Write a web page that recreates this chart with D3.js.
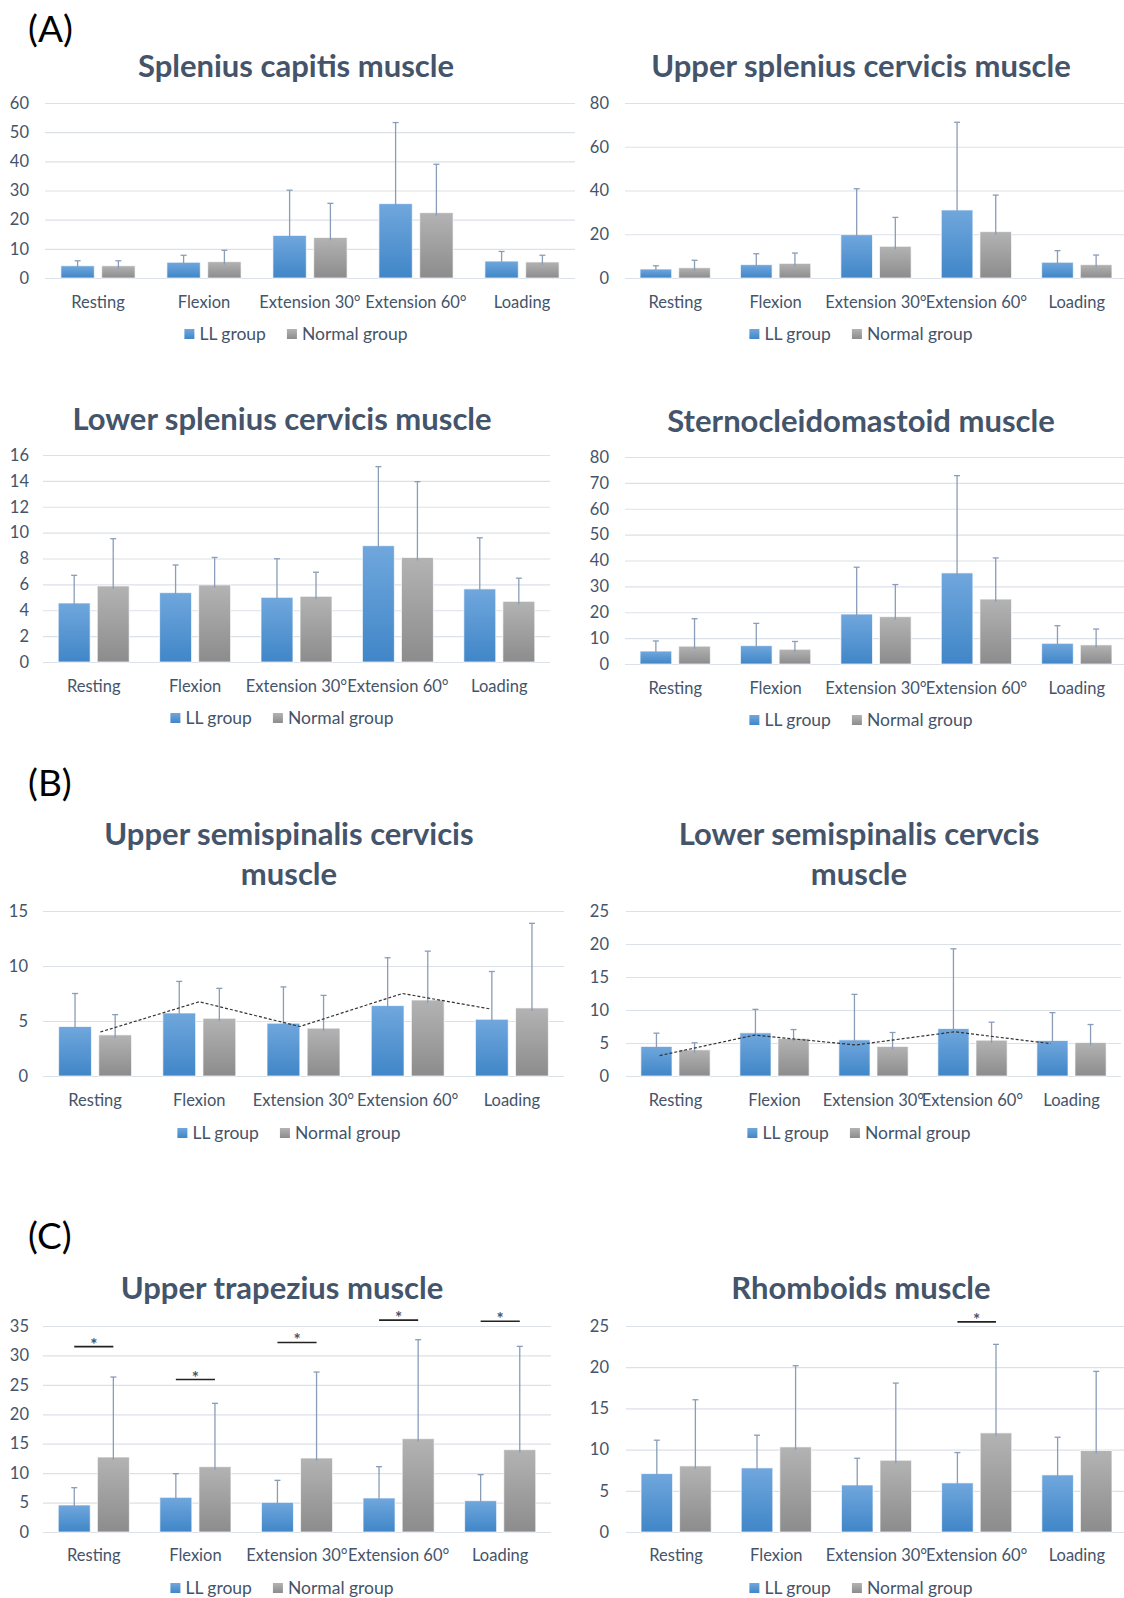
<!DOCTYPE html>
<html>
  <head>
    <meta charset="UTF-8">
    <script src="https://d3js.org/d3.v7.min.js"></script>
    <style>
      body{ margin: 0; background: #fff; }
      text{ font-family: Lato, "Open Sans", sans-serif; fill: #44546A; }
      .grid line{ stroke: #DCE1E8; stroke-width: 1.2; }
      .grid .domain, .cats .domain{ display: none; }
      .title{ font-weight: bold; font-size: 31px; }
      .panel{ font-size: 37px; fill: #000; }
    </style>
    <title>Muscle activity</title>
  </head>
  <body>
    <script>
      // categories and series
      const categories = ["Resting", "Flexion", "Extension 30°", "Extension 60°", "Loading"];
      const seriesNames = ["LL group", "Normal group"];

      // (A) splenius capitis
      const capitisLL = [4.2, 5.4, 14.6, 25.5, 5.8];
      const capitisLLSd = [1.7, 2.4, 15.5, 27.8, 3.3];
      const capitisNormal = [4.2, 5.6, 13.9, 22.4, 5.5];
      const capitisNormalSd = [1.7, 3.9, 11.7, 16.6, 2.3];
      const capitisTicks = [0, 10, 20, 30, 40, 50, 60];

      // (A) upper splenius cervicis
      const upperSplLL = [4.1, 6.1, 19.8, 31.1, 7.2];
      const upperSplLLSd = [1.5, 5.0, 21.0, 40.1, 5.3];
      const upperSplNormal = [4.7, 6.7, 14.5, 21.2, 6.1];
      const upperSplNormalSd = [3.4, 4.7, 13.2, 16.7, 4.4];
      const upperSplTicks = [0, 20, 40, 60, 80];

      // (A) lower splenius cervicis
      const lowerSplLL = [4.56, 5.36, 5.0, 8.99, 5.65];
      const lowerSplLLSd = [2.14, 2.14, 2.98, 6.11, 3.95];
      const lowerSplNormal = [5.88, 5.96, 5.08, 8.08, 4.69];
      const lowerSplNormalSd = [3.65, 2.12, 1.86, 5.86, 1.79];
      const lowerSplTicks = [0, 2, 4, 6, 8, 10, 12, 14, 16];

      // (A) sternocleidomastoid
      const scmLL = [5.0, 7.1, 19.3, 35.2, 8.0];
      const scmLLSd = [3.9, 8.6, 18.1, 37.6, 6.8];
      const scmNormal = [6.9, 5.7, 18.3, 25.1, 7.4];
      const scmNormalSd = [10.6, 3.0, 12.4, 15.9, 6.1];
      const scmTicks = [0, 10, 20, 30, 40, 50, 60, 70, 80];

      // (B) upper semispinalis cervicis
      const upperSemiLL = [4.5, 5.73, 4.8, 6.4, 5.16];
      const upperSemiLLSd = [3.0, 2.87, 3.3, 4.35, 4.34];
      const upperSemiNormal = [3.74, 5.25, 4.35, 6.91, 6.19];
      const upperSemiNormalSd = [1.84, 2.72, 2.98, 4.44, 7.69];
      const upperSemiTicks = [0, 5, 10, 15];
      const upperSemiTrend = [4.0, 6.75, 4.5, 7.5, 6.1];
      const upperSemiTrendAt = [0.05, 1.0, 1.965, 2.95, 3.79];

      // (B) lower semispinalis cervicis
      const lowerSemiLL = [4.48, 6.54, 5.48, 7.19, 5.38];
      const lowerSemiLLSd = [2.01, 3.56, 6.89, 12.08, 4.22];
      const lowerSemiNormal = [3.97, 5.68, 4.48, 5.43, 5.08];
      const lowerSemiNormalSd = [1.06, 1.36, 2.11, 2.72, 2.72];
      const lowerSemiTicks = [0, 5, 10, 15, 20, 25];
      const lowerSemiTrend = [3.1, 6.2, 4.7, 6.7, 4.9];
      const lowerSemiTrendAt = [-0.16, 0.8, 1.82, 2.82, 3.79];

      // (C) upper trapezius
      const trapLL = [4.59, 5.89, 5.04, 5.78, 5.32];
      const trapLLSd = [2.94, 4.02, 3.74, 5.32, 4.42];
      const trapNormal = [12.74, 11.1, 12.57, 15.86, 13.99];
      const trapNormalSd = [13.59, 10.76, 14.61, 16.81, 17.55];
      const trapTicks = [0, 5, 10, 15, 20, 25, 30, 35];
      const trapSig = [31.5, 25.9, 32.2, 36.0, 35.8];

      // (C) rhomboids
      const rhombLL = [7.09, 7.78, 5.71, 5.96, 6.93];
      const rhombLLSd = [4.05, 3.97, 3.24, 3.68, 4.57];
      const rhombNormal = [8.02, 10.33, 8.71, 12.03, 9.89];
      const rhombNormalSd = [8.03, 9.85, 9.36, 10.74, 9.6];
      const rhombTicks = [0, 5, 10, 15, 20, 25];
      const rhombSig = [null, null, null, 25.5, null];

      const svg = d3.select("body").append("svg")
                    .attr("width", 1124)
                    .attr("height", 1598);

      // bar gradients
      const defs = svg.append("defs");
      function gradient(id, top, bottom){
        let gr = defs.append("linearGradient").attr("id", id)
                     .attr("x1", 0).attr("y1", 0).attr("x2", 0).attr("y2", 1);
        gr.append("stop").attr("offset", "0%").attr("stop-color", top);
        gr.append("stop").attr("offset", "100%").attr("stop-color", bottom);
      }
      gradient("gLL", "#70A7DD", "#4086C8");
      gradient("gNormal", "#B3B3B3", "#8C8C8C");
      const fills = ["url(#gLL)", "url(#gNormal)"];

      // panel letters
      [["(A)", 29], ["(B)", 783], ["(C)", 1236]].forEach(p => {
        svg.append("text").attr("class", "panel")
           .attr("x", 28).attr("y", p[1]).attr("dy", "0.35em")
           .text(p[0]);
      });

      const charts = [
        {title: ["Splenius capitis muscle"], ll: capitisLL, llSd: capitisLLSd, nm: capitisNormal, nmSd: capitisNormalSd, ticks: capitisTicks,
         left: 45, right: 575, top: 103, bottom: 278, labelRight: 29, cx: 296, titleY: 66, catY: 302, legendY: 334},
        {title: ["Upper splenius cervicis muscle"], ll: upperSplLL, llSd: upperSplLLSd, nm: upperSplNormal, nmSd: upperSplNormalSd, ticks: upperSplTicks,
         left: 625, right: 1127, top: 103, bottom: 278, labelRight: 609, cx: 861, titleY: 66, catY: 302, legendY: 334},
        {title: ["Lower splenius cervicis muscle"], ll: lowerSplLL, llSd: lowerSplLLSd, nm: lowerSplNormal, nmSd: lowerSplNormalSd, ticks: lowerSplTicks,
         left: 43, right: 550, top: 455, bottom: 662, labelRight: 29, cx: 282, titleY: 419, catY: 686, legendY: 718},
        {title: ["Sternocleidomastoid muscle"], ll: scmLL, llSd: scmLLSd, nm: scmNormal, nmSd: scmNormalSd, ticks: scmTicks,
         left: 625, right: 1127, top: 457, bottom: 664, labelRight: 609, cx: 861, titleY: 421, catY: 688, legendY: 720},
        {title: ["Upper semispinalis cervicis", "muscle"], ll: upperSemiLL, llSd: upperSemiLLSd, nm: upperSemiNormal, nmSd: upperSemiNormalSd, ticks: upperSemiTicks,
         trend: upperSemiTrend, trendAt: upperSemiTrendAt,
         left: 43, right: 564, top: 911, bottom: 1076, labelRight: 28, cx: 289, titleY: 834, catY: 1100, legendY: 1133},
        {title: ["Lower semispinalis cervcis", "muscle"], ll: lowerSemiLL, llSd: lowerSemiLLSd, nm: lowerSemiNormal, nmSd: lowerSemiNormalSd, ticks: lowerSemiTicks,
         trend: lowerSemiTrend, trendAt: lowerSemiTrendAt,
         left: 626, right: 1121, top: 911, bottom: 1076, labelRight: 609, cx: 859, titleY: 834, catY: 1100, legendY: 1133},
        {title: ["Upper trapezius muscle"], ll: trapLL, llSd: trapLLSd, nm: trapNormal, nmSd: trapNormalSd, ticks: trapTicks, sig: trapSig,
         left: 43, right: 551, top: 1326, bottom: 1532, labelRight: 29, cx: 282, titleY: 1288, catY: 1555, legendY: 1588},
        {title: ["Rhomboids muscle"], ll: rhombLL, llSd: rhombLLSd, nm: rhombNormal, nmSd: rhombNormalSd, ticks: rhombTicks, sig: rhombSig,
         left: 626, right: 1127, top: 1326, bottom: 1532, labelRight: 609, cx: 861, titleY: 1288, catY: 1555, legendY: 1588}
      ];

      charts.forEach(c => {
        const g = svg.append("g");
        const x = d3.scaleBand().domain(categories).range([c.left, c.right]);
        const y = d3.scaleLinear().domain([0, d3.max(c.ticks)]).range([c.bottom, c.top]);
        const bw = x.bandwidth();
        const barW = bw * 0.315;
        const barX = (i, s) => x(categories[i]) + bw * (0.15 + s * 0.385);

        // title
        c.title.forEach((t, k) => {
          g.append("text").attr("class", "title")
           .attr("x", c.cx).attr("y", c.titleY + k * 40).attr("dy", "0.35em")
           .attr("text-anchor", "middle").text(t);
        });

        // gridlines + y labels
        g.append("g").attr("class", "grid")
         .attr("transform", "translate(" + c.left + ",0)")
         .call(d3.axisLeft(y).tickValues(c.ticks).tickSize(-(c.right - c.left)).tickPadding(c.left - c.labelRight))
         .selectAll("text").style("font-size", "16.5px").attr("fill", "#44546A");

        // category labels
        let cats = g.append("g").attr("class", "cats")
                    .attr("transform", "translate(0," + c.catY + ")")
                    .call(d3.axisBottom(x).tickSize(0).tickPadding(0));
        cats.selectAll("line").remove();
        cats.selectAll("text").attr("dy", "0.35em").style("font-size", "16.5px").attr("fill", "#44546A");

        // bars + error bars
        [[c.ll, c.llSd], [c.nm, c.nmSd]].forEach((ser, s) => {
          ser[0].forEach((v, i) => {
            let bx = barX(i, s);
            g.append("rect")
             .attr("x", bx).attr("width", barW)
             .attr("y", y(v)).attr("height", y(0) - y(v))
             .attr("fill", fills[s])
             .attr("stroke", "#fff").attr("stroke-opacity", 0.7).attr("stroke-width", 1);
            let cxb = bx + barW / 2;
            let top = y(v + ser[1][i]);
            g.append("line").attr("x1", cxb).attr("x2", cxb).attr("y1", y(v) + 3).attr("y2", top)
             .attr("stroke", "#8A9DB8").attr("stroke-width", 1.3);
            g.append("line").attr("x1", cxb - 3).attr("x2", cxb + 3).attr("y1", top).attr("y2", top)
             .attr("stroke", "#8A9DB8").attr("stroke-width", 1.3);
          });
        });

        // significance markers
        if (c.sig){
          c.sig.forEach((v, i) => {
            if (v === null) return;
            let xa = barX(i, 0) + barW / 2, xb = barX(i, 1) + barW / 2;
            g.append("line").attr("x1", xa).attr("x2", xb).attr("y1", y(v)).attr("y2", y(v))
             .attr("stroke", "#222").attr("stroke-width", 1.6);
            g.append("text").attr("x", (xa + xb) / 2).attr("y", y(v) + 4)
             .attr("text-anchor", "middle").style("font-size", "17px").style("font-weight", "bold")
             .attr("fill", "#000").text("*");
          });
        }

        // dotted trend line
        if (c.trend){
          const xi = d3.scaleLinear().domain([0, 1]).range([x(categories[0]) + bw / 2, x(categories[1]) + bw / 2]);
          const line = d3.line().x((d, i) => xi(c.trendAt[i])).y(d => y(d));
          g.append("path").datum(c.trend).attr("d", line)
           .attr("fill", "none").attr("stroke", "#333").attr("stroke-width", 1.2)
           .attr("stroke-dasharray", "3,2");
        }

        // legend
        let lg = g.append("g");
        let xpos = 0;
        seriesNames.forEach((n, s) => {
          lg.append("rect").attr("x", xpos).attr("y", c.legendY - 5).attr("width", 10).attr("height", 10)
            .attr("fill", fills[s]);
          let t = lg.append("text").attr("x", xpos + 15).attr("y", c.legendY).attr("dy", "0.35em")
                    .style("font-size", "17.5px").text(n);
          xpos += 15 + t.node().getComputedTextLength() + 21;
        });
        let lw = xpos - 21;
        lg.attr("transform", "translate(" + (c.cx - lw / 2) + ",0)");
      });
    </script>
  </body>
</html>
